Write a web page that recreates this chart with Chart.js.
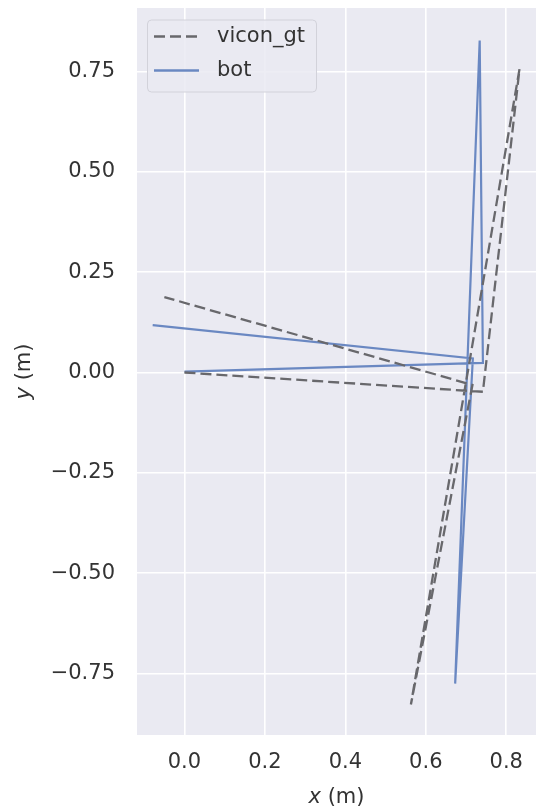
<!DOCTYPE html>
<html>
<head>
<meta charset="utf-8">
<script src="https://cdn.jsdelivr.net/npm/chart.js@4"></script>
<style>
html,body{margin:0;padding:0;background:#fff;}
#wrap{width:537px;height:812px;}
</style>
</head>
<body>
<div id="wrap"><canvas id="c" width="537" height="812"></canvas></div>
<script>
const seriesNames = ["vicon_gt", "bot"];
const viconX = [0.000, 0.742, 0.833, 0.563, 0.716, -0.050];
const viconY = [0.000, -0.048, 0.756, -0.827, -0.031, 0.188];
const botX = [0.000, 0.742, 0.734, 0.673, 0.717, -0.079];
const botY = [0.002, 0.024, 0.827, -0.775, 0.035, 0.118];
const xTicks = [0.0, 0.2, 0.4, 0.6, 0.8];
const yTicks = [-0.75, -0.50, -0.25, 0.00, 0.25, 0.50, 0.75];
const xTitleVar = "x", yTitleVar = "y", unitText = " (m)";

const FONT = "'DejaVu Sans', sans-serif";
const FS = 21;
const TEXT = "#333333";
const GRAY = "#68686c";
const BLUE = "#6a88c2";
const DASH = [11, 5];

function pts(xs, ys){ return xs.map((x,i)=>({x:x, y:ys[i]})); }
function fmt(v, d){ const s = Math.abs(v).toFixed(d); return (v < -1e-9 ? "\u2212" : "") + s; }

const bgPlugin = {
  id: 'bg',
  beforeDraw(chart){
    const {ctx, chartArea:a} = chart;
    ctx.save();
    ctx.fillStyle = '#EAEAF2';
    ctx.fillRect(a.left, a.top, a.right-a.left, a.bottom-a.top);
    ctx.restore();
  },
  afterDraw(chart){
    const {ctx, chartArea:a} = chart;
    ctx.save();
    ctx.fillStyle = TEXT;
    ctx.textBaseline = 'middle';
    const it = "italic " + FS + "px " + FONT, nt = FS + "px " + FONT;
    ctx.font = it; const w1 = ctx.measureText(xTitleVar).width;
    ctx.font = nt; const w2 = ctx.measureText(unitText).width;
    let cx = (a.left + a.right)/2, sx = cx - (w1+w2)/2, ty = 798;
    ctx.textAlign = 'left';
    ctx.font = it; ctx.fillText(xTitleVar, sx, ty);
    ctx.font = nt; ctx.fillText(unitText, sx + w1, ty);
    ctx.translate(25, (a.top + a.bottom)/2);
    ctx.rotate(-Math.PI/2);
    ctx.font = it; const v1 = ctx.measureText(yTitleVar).width;
    ctx.font = nt; const v2 = ctx.measureText(unitText).width;
    const sy = -(v1+v2)/2;
    ctx.font = it; ctx.fillText(yTitleVar, sy, 0);
    ctx.font = nt; ctx.fillText(unitText, sy + v1, 0);
    ctx.restore();

    ctx.save();
    const bx = 147.5, by = 20, bw = 169, bh = 72, r = 4;
    ctx.beginPath();
    ctx.moveTo(bx+r, by); ctx.lineTo(bx+bw-r, by); ctx.arcTo(bx+bw, by, bx+bw, by+r, r);
    ctx.lineTo(bx+bw, by+bh-r); ctx.arcTo(bx+bw, by+bh, bx+bw-r, by+bh, r);
    ctx.lineTo(bx+r, by+bh); ctx.arcTo(bx, by+bh, bx, by+bh-r, r);
    ctx.lineTo(bx, by+r); ctx.arcTo(bx, by, bx+r, by, r);
    ctx.closePath();
    ctx.fillStyle = 'rgba(234,234,242,0.85)';
    ctx.fill();
    ctx.strokeStyle = '#d2d2da';
    ctx.lineWidth = 1;
    ctx.stroke();
    const items = [
      {name: seriesNames[0], color: GRAY, dash: DASH, y: 36.5},
      {name: seriesNames[1], color: BLUE, dash: [], y: 70.5}
    ];
    items.forEach(itm => {
      ctx.beginPath();
      ctx.setLineDash(itm.dash);
      ctx.strokeStyle = itm.color;
      ctx.lineWidth = 2.3;
      ctx.moveTo(154, itm.y); ctx.lineTo(199, itm.y);
      ctx.stroke();
      ctx.setLineDash([]);
      ctx.fillStyle = TEXT;
      ctx.font = FS + "px " + FONT;
      ctx.textAlign = 'left';
      ctx.textBaseline = 'middle';
      ctx.fillText(itm.name, 217, itm.y);
    });
    ctx.restore();
  }
};

new Chart(document.getElementById('c'), {
  type: 'scatter',
  data: {
    datasets: [
      {label: seriesNames[0], data: pts(viconX, viconY), showLine: true, borderColor: GRAY, borderDash: DASH, borderWidth: 2.3, pointRadius: 0, fill: false, tension: 0},
      {label: seriesNames[1], data: pts(botX, botY), showLine: true, borderColor: BLUE, borderWidth: 2.2, pointRadius: 0, fill: false, tension: 0}
    ]
  },
  options: {
    responsive: false,
    animation: false,
    devicePixelRatio: 1,
    layout: {padding: {left: 0, right: 1, top: 8, bottom: 0}},
    plugins: {legend: {display: false}, tooltip: {enabled: false}},
    scales: {
      x: {
        type: 'linear', min: -0.118, max: 0.874,
        border: {display: false},
        grid: {color: '#ffffff', lineWidth: 1.6, drawTicks: false},
        ticks: {color: TEXT, font: {family: FONT, size: FS}, padding: 15, maxRotation: 0,
          callback: v => fmt(v, 1)},
        afterBuildTicks: s => { s.ticks = xTicks.map(v => ({value: v})); },
        afterFit: s => { s.height = 77; s.paddingLeft = 0; s.paddingRight = 0; s.paddingTop = 0; s.paddingBottom = 0; }
      },
      y: {
        type: 'linear', min: -0.903, max: 0.908,
        border: {display: false},
        grid: {color: '#ffffff', lineWidth: 1.6, drawTicks: false},
        ticks: {color: TEXT, font: {family: FONT, size: FS}, padding: 22,
          callback: v => fmt(v, 2)},
        afterBuildTicks: s => { s.ticks = yTicks.map(v => ({value: v})); },
        afterFit: s => { s.width = 137; s.paddingLeft = 0; s.paddingRight = 0; s.paddingTop = 0; s.paddingBottom = 0; }
      }
    }
  },
  plugins: [bgPlugin]
});
</script>
</body>
</html>
